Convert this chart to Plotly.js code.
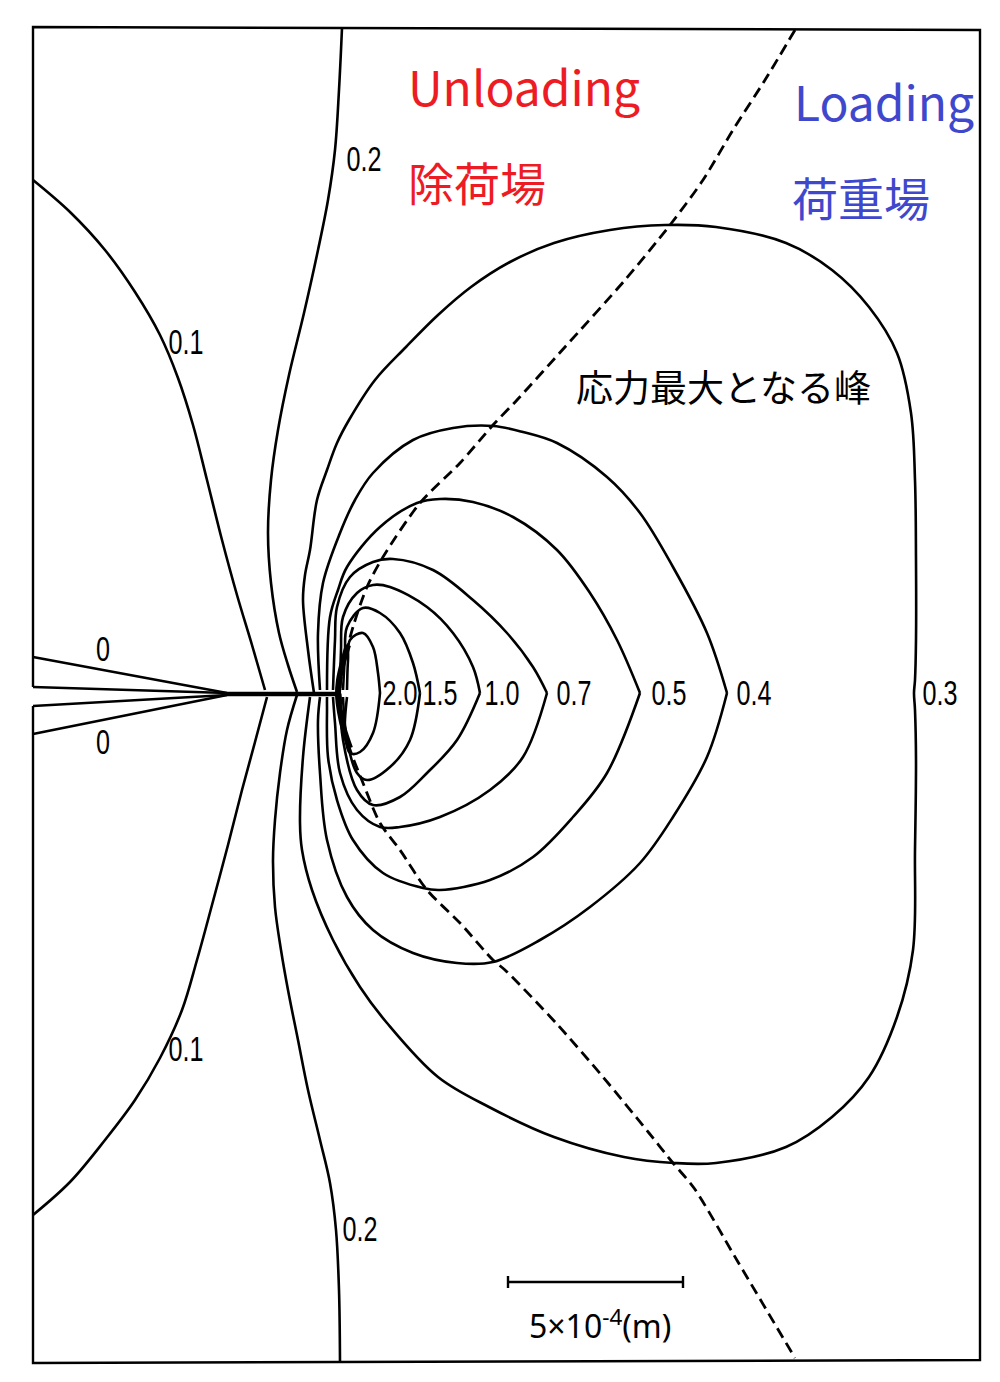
<!DOCTYPE html>
<html>
<head>
<meta charset="utf-8">
<script src="https://cdn.plot.ly/plotly-3.0.1.min.js"></script>
<style>html,body{margin:0;padding:0;background:#fff;}#chart{width:1000px;height:1382px;}</style>
</head>
<body>
<div id="chart"></div>
<script>
// ---- Data (coordinates in picture units, y downward) ----
// Frame (broken at the crack mouth)
const frameX = [33, 33, 980, 980, 33, 33];
const frameY = [687, 27, 30, 1360, 1363, 706];

// Zero-stress wedges along crack faces
const zeroUpAX = [33, 227], zeroUpAY = [657, 693];
const zeroUpBX = [33, 227], zeroUpBY = [687, 693];
const zeroLoAX = [33, 227], zeroLoAY = [706, 695];
const zeroLoBX = [33, 227], zeroLoBY = [734, 695];
const crackX = [227, 336], crackY = [694, 694];

// 0.1 contour
const c01uX = [33, 70, 105, 135, 160, 178, 193, 207, 222, 237, 252, 265];
const c01uY = [180, 212, 250, 292, 335, 378, 425, 480, 540, 595, 645, 690];
const c01lX = [267, 255, 242, 228, 212, 197, 182, 160, 135, 105, 70, 33];
const c01lY = [697, 742, 790, 845, 905, 960, 1010, 1058, 1100, 1140, 1182, 1215];

// 0.2 contour
const c02uX = [342, 339, 335, 328, 318, 304, 289, 278, 271, 268, 271, 279, 288, 297];
const c02uY = [28, 90, 150, 200, 250, 313, 375, 430, 480, 533, 583, 633, 665, 692];
const c02lX = [297, 287, 280, 275, 273, 275, 281, 288, 298, 308, 320, 330, 336, 339, 340];
const c02lY = [695, 730, 773, 820, 860, 907, 950, 990, 1040, 1090, 1140, 1183, 1230, 1290, 1362];

// 0.3 contour (closed loop around the tip)
const c03X = [314, 308, 303, 305, 310, 317, 327, 337, 349, 375, 406, 438, 471, 510, 554, 610, 665, 716, 786, 832, 869, 897, 911, 915, 916, 916, 915, 914, 915, 916, 915, 913, 897, 869, 832, 786, 716, 674, 624, 554, 489, 438, 387, 360, 333, 312, 302, 300, 303, 310];
const c03Y = [693, 650, 600, 575, 550, 500, 470, 443, 420, 380, 347, 315, 287, 262, 243, 230, 225, 227, 243, 270, 307, 353, 413, 480, 560, 640, 680, 693, 710, 760, 850, 950, 1017, 1077, 1117, 1147, 1163, 1163, 1157, 1137, 1107, 1077, 1023, 987, 940, 890, 850, 823, 757, 697];

// 0.4 contour
const c04uX = [320, 318, 323, 340, 355, 373, 413, 453, 493, 523, 557, 607, 640, 673, 707, 727];
const c04uY = [690, 633, 583, 533, 500, 473, 440, 428, 426, 432, 443, 477, 513, 567, 633, 693];
const c04lX = [727, 707, 673, 640, 590, 540, 493, 457, 413, 373, 347, 327, 320, 318, 320];
const c04lY = [693, 757, 817, 863, 907, 940, 962, 963, 953, 930, 897, 840, 773, 720, 697];

// 0.5 contour
const c05uX = [327, 330, 338, 347, 380, 417, 440, 473, 513, 557, 590, 617, 640];
const c05uY = [690, 617, 590, 567, 527, 503, 499, 502, 517, 550, 593, 640, 693];
const c05lX = [640, 607, 573, 533, 490, 440, 423, 383, 353, 337, 328, 327, 327];
const c05lY = [693, 773, 817, 857, 880, 890, 888, 873, 840, 800, 757, 707, 697];

// 0.7 contour
const c07uX = [333, 335, 337, 350, 373, 393, 433, 473, 507, 533, 547];
const c07uY = [690, 640, 607, 577, 562, 559, 570, 600, 633, 667, 693];
const c07lX = [547, 523, 490, 440, 400, 380, 357, 340, 335, 333];
const c07lY = [693, 757, 790, 817, 827, 827, 810, 773, 723, 697];

// 1.0 contour
const c10uX = [340, 341, 343, 357, 373, 390, 427, 453, 473, 480];
const c10uY = [690, 650, 617, 593, 585, 587, 607, 633, 667, 693];
const c10lX = [480, 457, 427, 400, 373, 357, 343, 340];
const c10lY = [693, 740, 773, 797, 805, 790, 740, 697];

// 1.5 contour
const c15uX = [343, 345, 347, 363, 380, 400, 413, 420];
const c15uY = [690, 655, 627, 608, 613, 633, 663, 693];
const c15lX = [420, 410, 390, 367, 357, 347, 343];
const c15lY = [693, 740, 767, 780, 773, 740, 697];

// 2.0 contour
const c20uX = [347, 348, 350, 363, 373, 378, 380];
const c20uY = [690, 660, 640, 633, 647, 673, 693];
const c20lX = [380, 373, 360, 350, 345, 347];
const c20lY = [693, 733, 752, 753, 733, 697];

// Ridge of maximum stress (dashed)
const ridgeX = [795, 765, 733, 703, 670, 625, 565, 517, 493, 460, 420, 383, 367, 353, 343, 340, 347, 363, 380, 400, 427, 460, 493, 505, 556, 603, 649, 673, 694, 738, 795];
const ridgeY = [30, 80, 130, 180, 225, 280, 347, 400, 425, 463, 503, 557, 587, 627, 667, 690, 740, 783, 823, 850, 890, 923, 960, 970, 1023, 1077, 1133, 1163, 1188, 1262, 1358];
const tipBlobX = [348, 343, 339, 338, 340, 344, 350];
const tipBlobY = [645, 662, 680, 695, 712, 730, 748];

// Contour labels
const labelText = ['0.2', '0.1', '2.0', '1.5', '1.0', '0.7', '0.5', '0.4', '0.3', '0.1', '0.2', '0', '0'];
const labelX = [364, 186, 400, 440, 502, 574, 669, 754, 940, 186, 360, 103, 103];
const labelY = [162, 345, 696, 696, 696, 696, 696, 696, 696, 1052, 1232, 652, 745];

// Scale bar (5e-4 m)
const barX = [508, 683], barY = [1282, 1282];
const barTickLX = [508, 508], barTickLY = [1276, 1288];
const barTickRX = [683, 683], barTickRY = [1276, 1288];
const barText = '5×10<sup>-4</sup>(m)';

// Region titles
const titleText = ['Unloading', '除荷場', 'Loading', '荷重場', '応力最大となる峰'];
const titleX = [406, 406, 792, 790, 574];
const titleY = [85, 181, 100, 196, 386];
const titleColor = ['#ED1C24', '#ED1C24', '#3F48CC', '#3F48CC', '#000000'];
const titleSize = [48, 46, 48, 46, 37];

// ---- Build traces ----
const traces = [];
function addLine(x, y, opts) {
  opts = opts || {};
  traces.push({
    type: 'scatter', mode: 'lines', x: x, y: y, hoverinfo: 'skip',
    line: {color: '#000', width: opts.width || 2.6, dash: opts.dash || 'solid',
           shape: opts.shape || 'spline', smoothing: opts.smoothing === undefined ? 1 : opts.smoothing}
  });
}
addLine(frameX, frameY, {width: 2.4, shape: 'linear'});
[[zeroUpAX, zeroUpAY], [zeroUpBX, zeroUpBY], [zeroLoAX, zeroLoAY], [zeroLoBX, zeroLoBY]].forEach(p => addLine(p[0], p[1], {width: 2.6, shape: 'linear'}));
addLine(crackX, crackY, {width: 4.5, shape: 'linear'});
[[c01uX, c01uY], [c01lX, c01lY], [c02uX, c02uY], [c02lX, c02lY], [c03X, c03Y],
 [c04uX, c04uY], [c04lX, c04lY], [c05uX, c05uY], [c05lX, c05lY], [c07uX, c07uY], [c07lX, c07lY],
 [c10uX, c10uY], [c10lX, c10lY], [c15uX, c15uY], [c15lX, c15lY], [c20uX, c20uY], [c20lX, c20lY]]
  .forEach(p => addLine(p[0], p[1], {width: 2.6}));
addLine(ridgeX, ridgeY, {width: 2.8, dash: '11px,6px', smoothing: 0.8});
addLine(tipBlobX, tipBlobY, {width: 6, smoothing: 0.8});
addLine(barX, barY, {width: 2.4, shape: 'linear'});
addLine(barTickLX, barTickLY, {width: 2.4, shape: 'linear'});
addLine(barTickRX, barTickRY, {width: 2.4, shape: 'linear'});

traces.push({
  type: 'scatter', mode: 'text', x: labelX, y: labelY, text: labelText, hoverinfo: 'skip',
  textposition: 'middle center',
  textfont: {family: '"Liberation Sans", Arial, sans-serif', size: 36, color: '#000'}
});

const annotations = titleText.map((t, i) => ({
  x: titleX[i], y: titleY[i], xref: 'x', yref: 'y', text: t, showarrow: false,
  xanchor: 'left', yanchor: 'middle',
  font: {family: '"Noto Sans CJK JP", "Noto Sans", sans-serif', size: titleSize[i], color: titleColor[i]}
}));
annotations.push({
  x: 600, y: 1324, xref: 'x', yref: 'y', text: barText, showarrow: false,
  xanchor: 'center', yanchor: 'middle',
  font: {family: '"Noto Sans", sans-serif', size: 32, color: '#000'}
});

const layout = {
  width: 1000, height: 1382,
  margin: {l: 0, r: 0, t: 0, b: 0, pad: 0},
  paper_bgcolor: '#fff', plot_bgcolor: '#fff',
  showlegend: false,
  xaxis: {range: [0, 1000], visible: false, fixedrange: true},
  yaxis: {range: [1382, 0], visible: false, fixedrange: true},
  annotations: annotations
};

Plotly.newPlot('chart', traces, layout, {displayModeBar: false, staticPlot: true}).then(function (gd) {
  // narrow the hand-lettered contour labels horizontally (they stay real text)
  const sx = 0.7;
  gd.querySelectorAll('.scatterlayer .textpoint text').forEach(function (t) {
    const x = parseFloat(t.getAttribute('x')) || 0;
    const prev = t.getAttribute('transform') || '';
    t.setAttribute('transform', 'translate(' + x + ',0) scale(' + sx + ',1) translate(' + (-x) + ',0) ' + prev);
  });
});
</script>
</body>
</html>
